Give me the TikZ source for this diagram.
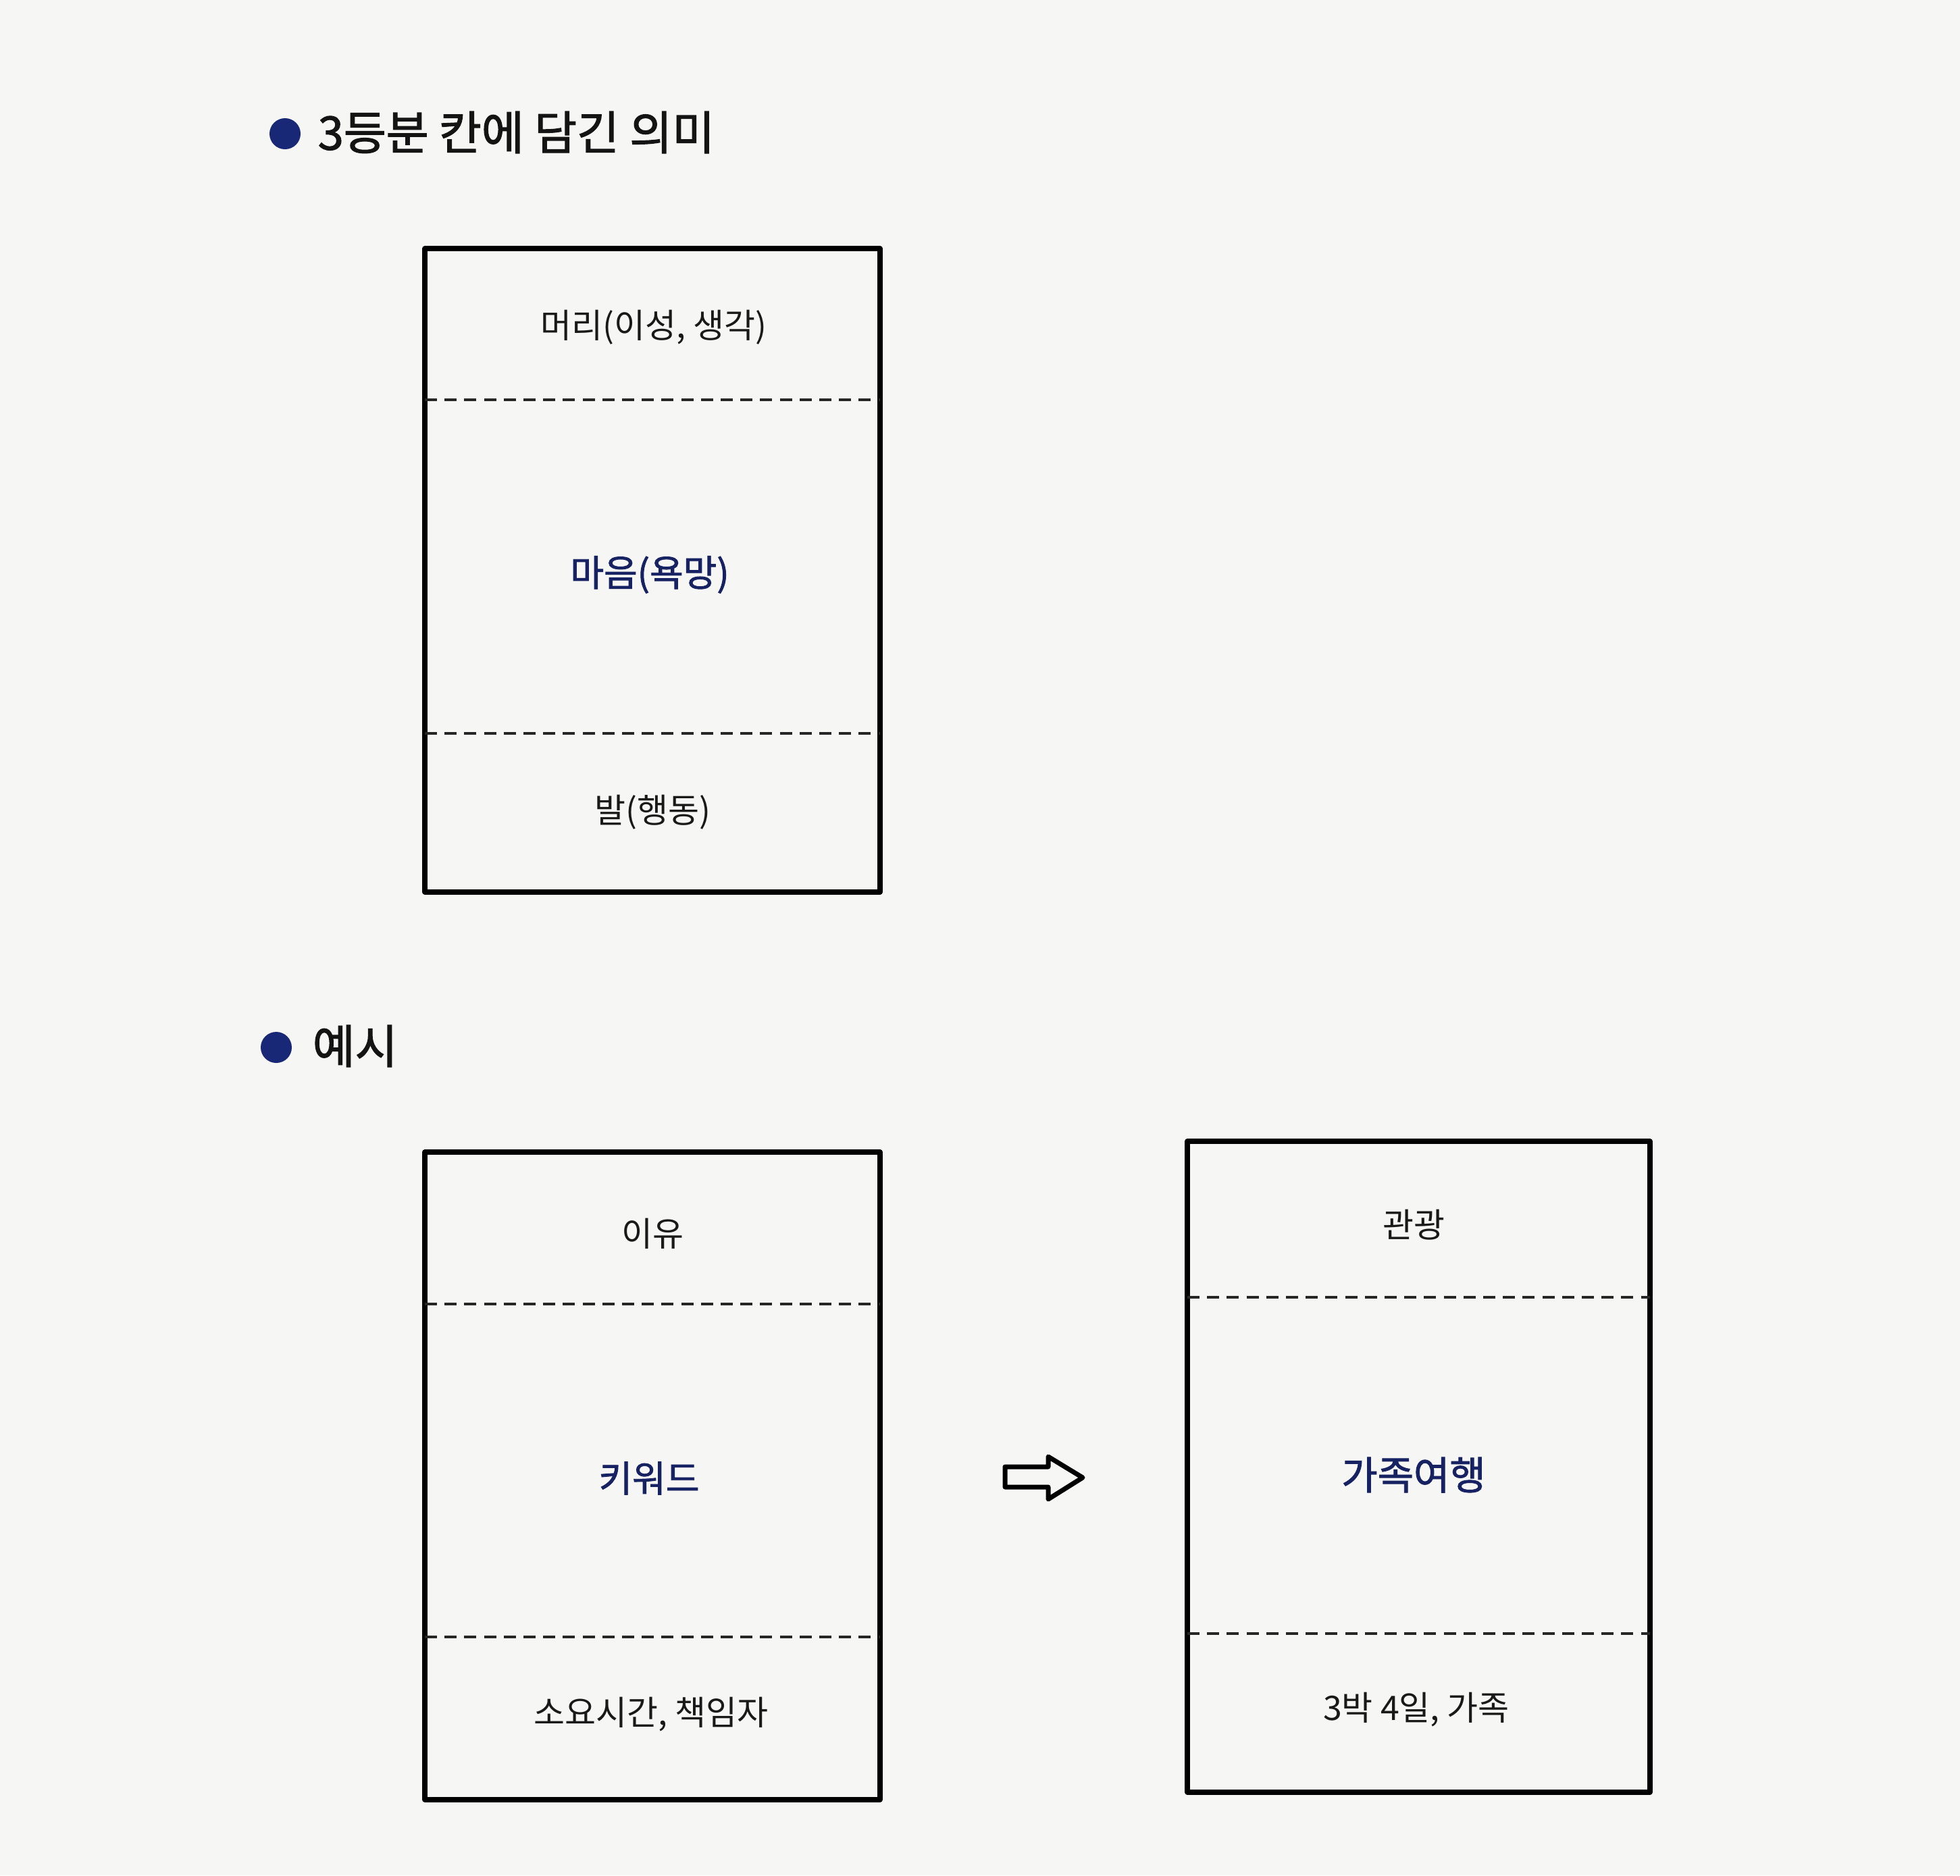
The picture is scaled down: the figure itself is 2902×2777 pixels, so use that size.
\documentclass[tikz,border=0pt]{standalone}
\usepackage{fontspec}
\usetikzlibrary{calc}
\newfontfamily\kr{Noto Sans CJK KR}
\newfontfamily\krh[FakeBold=1.6]{Noto Sans CJK KR}
\newfontfamily\krm[FakeBold=1.8]{Noto Sans CJK KR}
\definecolor{bulletblue}{RGB}{24,40,118}
\definecolor{inkblue}{RGB}{22,34,98}
\definecolor{paper}{RGB}{246,246,244}
\begin{document}
\begin{tikzpicture}[x=0.25pt,y=-0.25pt,
  boxframe/.style={draw=black, line width=1.8pt, line join=round, outer sep=0pt, inner sep=0pt},
  divider/.style={draw=black!85, line width=1.05pt, dash pattern=on 4.5pt off 2.8pt},
  label/.style={font=\kr\fontsize{12.5}{14}\selectfont, text=black!90, inner sep=0pt},
  hand/.style={font=\krh\fontsize{13.5}{15}\selectfont, text=inkblue, inner sep=0pt},
  heading/.style={font=\krm\fontsize{17.1}{20}\selectfont, anchor=west, inner sep=0pt, text=black!92},
  bullet/.style={circle, fill=bulletblue, minimum size=11.5pt, inner sep=0pt},
  blockarrow/.style={draw=black, line width=1.75pt, line join=round}]
\fill[paper] (0,0) rectangle (2902,2777);
\useasboundingbox (0,0) rectangle (2902,2777);

% headings
\node[bullet] (d1) at (422,198) {};
\node[heading] (h1) at (470,196) {3등분 칸에 담긴 의미};
\node[bullet] (d2) at (409,1551) {};
\node[heading] (h2) at (462,1549) {예시};

% box 1
\node[boxframe, minimum width=168.5pt, minimum height=238.25pt] (b1) at (966,844.5) {};
\draw[divider] ($(b1.north west)+(0,224)$) -- ($(b1.north east)+(0,224)$);
\draw[divider] ($(b1.north west)+(0,718)$) -- ($(b1.north east)+(0,718)$);
\node[label] (t11) at (968,485) {머리(이성, 생각)};
\node[hand] (t12) at (962,851) {마음(욕망)};
\node[label] (t13) at (966,1203) {발(행동)};

% box 2
\node[boxframe, minimum width=168.5pt, minimum height=239.75pt] (b2) at (966,2185.5) {};
\draw[divider] ($(b2.north west)+(0,225)$) -- ($(b2.north east)+(0,225)$);
\draw[divider] ($(b2.north west)+(0,718)$) -- ($(b2.north east)+(0,718)$);
\node[label] (t21) at (966,1827) {이유};
\node[hand] (t22) at (961,2189) {키워드};
\node[label] (t23) at (964,2539) {소요시간, 책임자};

% box 3
\node[boxframe, minimum width=171.25pt, minimum height=241pt] (b3) at (2100.5,2172) {};
\draw[divider] ($(b3.north west)+(0,231)$) -- ($(b3.north east)+(0,231)$);
\draw[divider] ($(b3.north west)+(0,729)$) -- ($(b3.north east)+(0,729)$);
\node[label] (t31) at (2093,1814) {관광};
\node[hand, font=\krh\fontsize{14.5}{16}\selectfont] (t32) at (2093,2184) {가족여행};
\node[label] (t33) at (2097,2532) {3박 4일, 가족};

% block arrow
\draw[blockarrow] (1488,2172) -- (1552,2172) -- (1552,2157) -- (1603,2188)
  -- (1552,2220) -- (1552,2202) -- (1488,2202) -- cycle;
\end{tikzpicture}
\end{document}
